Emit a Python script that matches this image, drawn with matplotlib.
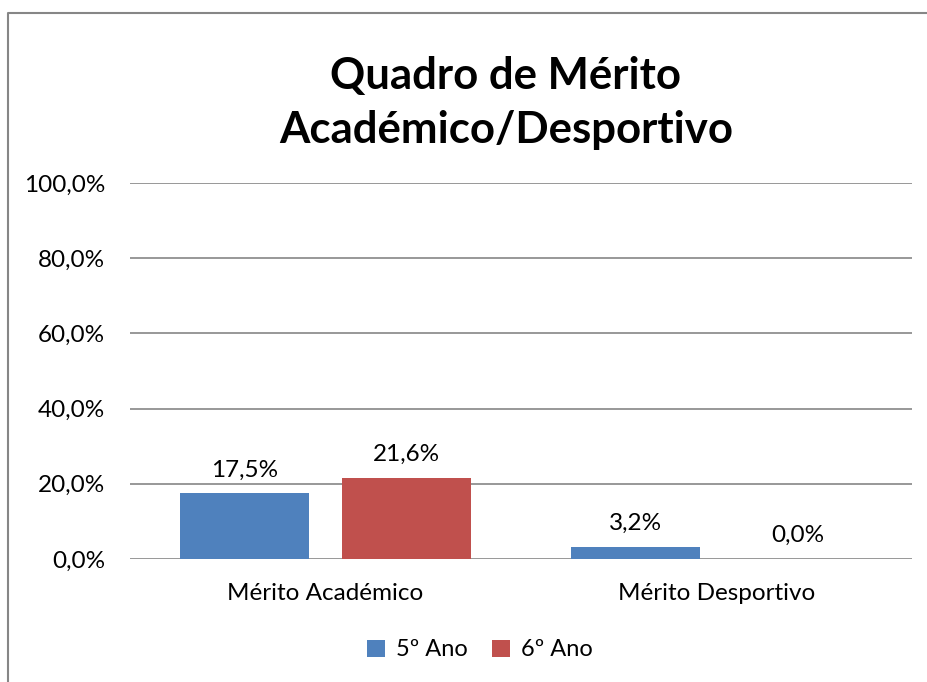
import numpy as np
import matplotlib.pyplot as plt
from matplotlib.lines import Line2D

categorias = ['Mérito Académico', 'Mérito Desportivo']
series = ['5º Ano', '6º Ano']
ano5 = [17.5, 3.2]
ano6 = [21.6, 0.0]
yticks = [0, 20, 40, 60, 80, 100]

cores = ['#4F81BD', '#C0504D']
plt.rcParams['font.family'] = ['Lato', 'DejaVu Sans']

fig = plt.figure(figsize=(9.28, 6.82), dpi=100)
ax = fig.add_axes([130 / 928, 1 - 559 / 682, (912 - 130) / 928, (559 - 183) / 682])

x = np.arange(len(categorias))
w = 0.332
off = 0.207
for vals, dx, cor, nome in [(ano5, -off, cores[0], series[0]), (ano6, off, cores[1], series[1])]:
    bars = ax.bar(x + dx, vals, w, color=cor, label=nome, zorder=3)
    for b, v in zip(bars, vals):
        ax.text(b.get_x() + b.get_width() / 2, v + 3.4, f'{v:.1f}%'.replace('.', ','),
                ha='center', va='bottom', fontsize=17.5, color='black')

ax.set_xlim(-0.5, 1.5)
ax.set_ylim(0, 100)
ax.set_yticks(yticks)
ax.set_yticklabels([f'{t:.1f}%'.replace('.', ',') for t in yticks], fontsize=17.5)
ax.set_xticks(x)
ax.set_xticklabels(categorias, fontsize=17.5)
ax.tick_params(length=0, pad=18)
ax.tick_params(axis='x', pad=17)
ax.yaxis.grid(True, color='#868686', linewidth=1.2, zorder=0)
for s in ax.spines.values():
    s.set_visible(False)

fig.text(506 / 928, 1 - 103 / 682, 'Quadro de Mérito\nAcadémico/Desportivo', ha='center', va='center',
         fontsize=31.5, fontweight='bold', linespacing=1.45)

fig.legend(loc='center', bbox_to_anchor=(480 / 928, 1 - 650 / 682), ncol=2, frameon=False,
           fontsize=17, handlelength=0.75, handleheight=0.75, handletextpad=0.5, columnspacing=1.0)

# chart border: only left and top edges fall inside the picture
bx, by = 8.5 / 928, 1 - 12.5 / 682
fig.add_artist(Line2D([bx, bx, 1.1], [-0.1, by, by], transform=fig.transFigure,
                      color='#868686', linewidth=1.5))

fig.savefig('out.png', dpi=100, facecolor='white', edgecolor='none')
